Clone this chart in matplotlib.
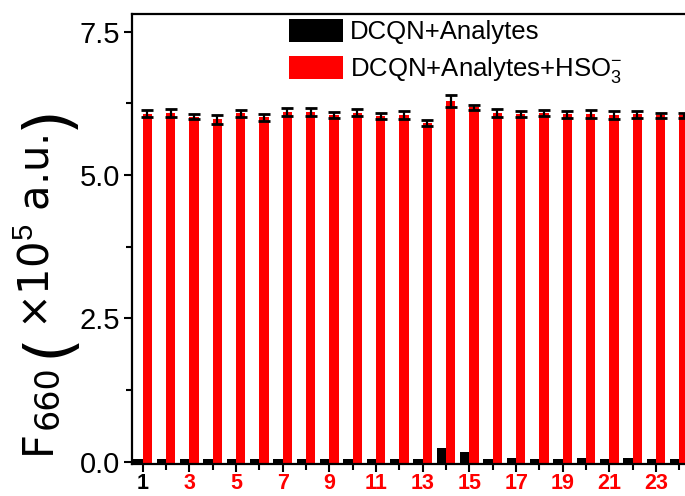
import numpy as np
import matplotlib
matplotlib.use("Agg")
import matplotlib.pyplot as plt
from matplotlib.ticker import FixedLocator

plt.rcParams['font.family'] = ['Liberation Sans', 'DejaVu Sans']
plt.rcParams['mathtext.fontset'] = 'custom'
plt.rcParams['mathtext.rm'] = 'Liberation Sans'
plt.rcParams['mathtext.it'] = 'Liberation Sans:italic'
plt.rcParams['mathtext.bf'] = 'Liberation Sans:bold'

# analyte index 1..24
analytes = np.arange(1, 25)

# F660 (x10^5 a.u.) without bisulfite
probe_only = [0.05, 0.05, 0.05, 0.05, 0.05, 0.05, 0.05, 0.04, 0.05, 0.05, 0.05, 0.05,
              0.04, 0.24, 0.17, 0.05, 0.07, 0.05, 0.05, 0.07, 0.05, 0.06, 0.05, 0.05]

# F660 (x10^5 a.u.) after adding HSO3-
with_hso3 = [6.07, 6.08, 6.02, 5.97, 6.08, 6.01, 6.10, 6.10, 6.05, 6.09, 6.03, 6.05,
             5.91, 6.29, 6.18, 6.09, 6.07, 6.08, 6.06, 6.06, 6.05, 6.06, 6.04, 6.04]
with_hso3_err = [0.06, 0.07, 0.05, 0.08, 0.06, 0.06, 0.07, 0.07, 0.05, 0.06, 0.06, 0.07,
                 0.05, 0.10, 0.05, 0.07, 0.05, 0.05, 0.06, 0.07, 0.07, 0.06, 0.05, 0.05]

xtick_pos = list(range(1, 24, 2))
xtick_labels = [str(i) for i in xtick_pos]

W, H = 685, 496
fig = plt.figure(figsize=(W / 100, H / 100), dpi=100)
left, right, bottom, top = 132.3, 690.0, 464.3, 13.7
ax = fig.add_axes([left / W, 1 - bottom / H, (right - left) / W, (bottom - top) / H])

y0, y1 = -0.045, 7.815
bw = 0.4
ax.bar(analytes - 0.2, np.array(probe_only) - y0, bw, bottom=y0, color='black',
       label='DCQN+Analytes')
ax.bar(analytes + 0.2, np.array(with_hso3) - y0, bw, bottom=y0, color='red',
       label='DCQN+Analytes+HSO$_3^{-}$')
ax.errorbar(analytes + 0.2, with_hso3, yerr=with_hso3_err, fmt='none', ecolor='black',
            elinewidth=1.6, capsize=4.3, capthick=2.0)

ax.set_xlim(0.55, 24.45)
ax.set_ylim(y0, y1)

for s in ax.spines.values():
    s.set_linewidth(1.6)

ax.yaxis.set_major_locator(FixedLocator([0, 2.5, 5.0, 7.5]))
ax.yaxis.set_minor_locator(FixedLocator([1.25, 3.75, 6.25]))
ax.set_yticklabels(['0.0', '2.5', '5.0', '7.5'])
ax.xaxis.set_major_locator(FixedLocator(xtick_pos))
ax.xaxis.set_minor_locator(FixedLocator(list(range(2, 25, 2))))
ax.set_xticklabels(xtick_labels, fontweight='bold', fontsize=15.5)
for i, lab in enumerate(ax.get_xticklabels()):
    lab.set_color('black' if i == 0 else 'red')

ax.tick_params(axis='both', which='major', direction='out', length=6, width=1.5)
ax.tick_params(axis='both', which='minor', direction='out', length=4, width=1.5)
ax.tick_params(axis='y', which='major', labelsize=21, pad=3)
ax.tick_params(axis='x', which='major', pad=0.5)

ax.legend(loc='upper left', bbox_to_anchor=(289 / W, 1 - 19 / H),
          bbox_transform=fig.transFigure, frameon=False, fontsize=18.5,
          borderpad=0, borderaxespad=0, handlelength=2.1, handleheight=1.0,
          handletextpad=0.28, labelspacing=0.42)

# y-axis title built from pieces so the brackets can be drawn oversized
fig.canvas.draw()
renderer = fig.canvas.get_renderer()
pieces = [
    ('F', 30, 50, 0),
    ('660', 24, 58, 1),
    ('(', 46, 66, 8),
    ('\u00d710$^{5}$ a.u.', 30, 50, 3),
    (')', 46, 66, 6),
]
ypos = 454.0
for txt, fs, xb, gap in pieces:
    ypos -= gap
    t = fig.text(xb / W, 1 - ypos / H, txt, fontsize=fs, rotation=90,
                 family='DejaVu Sans', rotation_mode='anchor',
                 ha='left', va='baseline')
    ext = t.get_window_extent(renderer)
    ypos -= ext.height

fig.savefig('out.png', dpi=100)
